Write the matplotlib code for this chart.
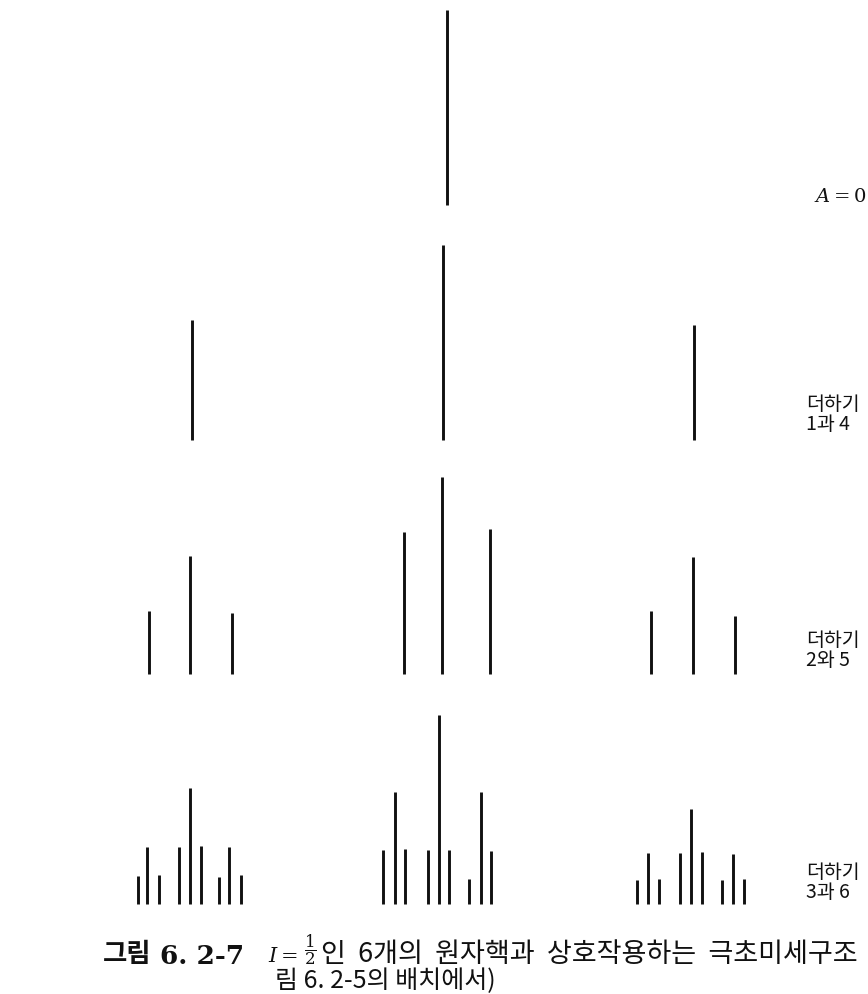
import matplotlib.pyplot as plt

plt.rcParams['font.family'] = ['Noto Sans CJK KR', 'DejaVu Sans']
plt.rcParams['mathtext.fontset'] = 'dejavuserif'

# line positions (field, px units of the page) and line intensities per spectrum
row1_pos = [447]
row1_h = [195]
row1_base = 205

row2_pos = [192, 443, 694]
row2_h = [120, 195, 115]
row2_base = 440

row3_pos = [149, 190, 232, 404, 442, 490, 651, 693, 735]
row3_h = [63, 118, 61, 142, 197, 145, 63, 117, 58]
row3_base = 674

row4_pos = [138, 147, 159, 179, 190, 201, 219, 229, 241,
            383, 395, 405, 428, 439, 449, 469, 481, 491,
            637, 648, 659, 680, 691, 702, 722, 733, 744]
row4_h = [28, 57, 29, 57, 116, 58, 27, 57, 29,
          54, 112, 55, 54, 189, 54, 25, 112, 53,
          24, 51, 25, 51, 95, 52, 24, 50, 25]
row4_base = 904

labels = [("$A=0$", ""), ("더하기", "1과 4"), ("더하기", "2와 5"), ("더하기", "3과 6")]
label_y = [197, 404, 640, 873]

fig = plt.figure(figsize=(8.68, 9.94), dpi=100)
ax = fig.add_axes([0, 0, 1, 1])
ax.set_xlim(0, 868)
ax.set_ylim(994, 0)
ax.axis('off')

ink = '#111111'
for pos, h, base in [(row1_pos, row1_h, row1_base), (row2_pos, row2_h, row2_base),
                     (row3_pos, row3_h, row3_base), (row4_pos, row4_h, row4_base)]:
    tops = [base - v for v in h]
    ax.vlines(pos, base, tops, colors=ink, linewidth=2.1)

# right-hand labels
ax.text(814, label_y[0], labels[0][0], fontsize=14,
        va='center', ha='left', color=ink)
for (l1, l2), y in zip(labels[1:], label_y[1:]):
    ax.text(806, y, l1, fontsize=14, va='center', ha='left', color=ink)
    ax.text(806, y + 20, l2, fontsize=14, va='center', ha='left', color=ink)

# caption
ax.text(103, 955, "그림", fontsize=19, fontweight='bold', va='center', ha='left', color=ink)
ax.text(160, 956, "6. 2-7", fontsize=19, fontweight='bold', family='DejaVu Serif',
        va='center', ha='left', color=ink)
ax.text(268, 956, r"$I{=}$", fontsize=15, va='center', ha='left', color=ink)
ax.text(304, 950, r"$\dfrac{1}{2}$", fontsize=12, va='center', ha='left', color=ink)
ax.text(321, 955, "인  6개의  원자핵과  상호작용하는  극초미세구조", fontsize=19.5,
        va='center', ha='left', color=ink)
ax.text(275, 981, "림 6. 2-5의 배치에서)", fontsize=18, va='center', ha='left', color=ink)

fig.savefig('out.png', dpi=100)
